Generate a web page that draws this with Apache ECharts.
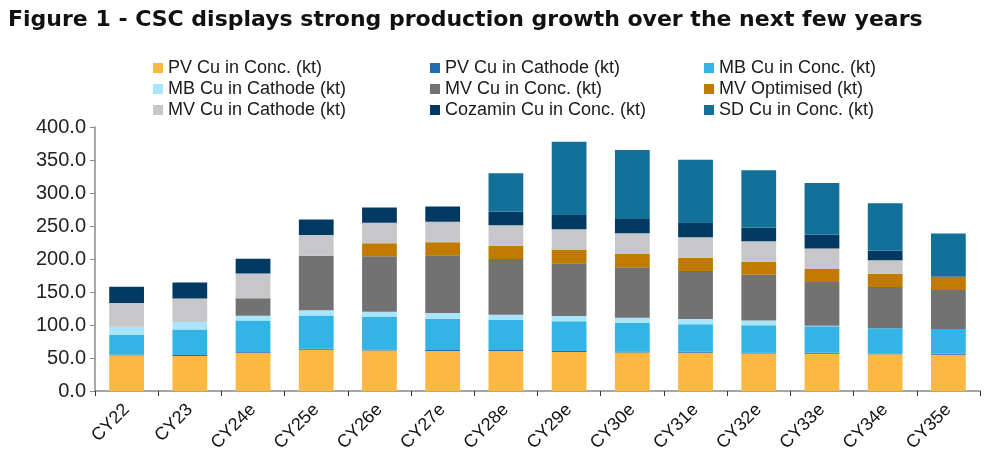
<!DOCTYPE html>
<html>
<head>
<meta charset="utf-8">
<script src="https://cdn.jsdelivr.net/npm/echarts@6/dist/echarts.min.js"></script>
<style>
  html, body { margin: 0; padding: 0; background: #fff; }
  #main { width: 1000px; height: 462px; }
</style>
</head>
<body>
<div id="main"></div>
<script>
// categories
var years = ['CY22', 'CY23', 'CY24e', 'CY25e', 'CY26e', 'CY27e', 'CY28e', 'CY29e', 'CY30e', 'CY31e', 'CY32e', 'CY33e', 'CY34e', 'CY35e'];

// series values (kt)
var pvConc     = [54, 53, 58, 62.5, 61.5, 60.5, 60.5, 59, 58.5, 58, 57, 56.5, 55.5, 55];
var pvCathode  = [1, 1.5, 1, 1.5, 1.5, 1.5, 1.5, 1.5, 1.5, 1.5, 1, 1.5, 1.5, 1.5];
var mbConc     = [30, 38.5, 48, 50.5, 49, 47.5, 45.5, 45, 43.5, 41.5, 41.5, 40, 38, 37.5];
var mbCathode  = [12.5, 11.5, 7, 8, 8, 8.5, 8, 8, 7.5, 8, 7.5, 1, 0, 0];
var mvConc     = [0, 0, 26.5, 82.5, 84, 87.5, 84.5, 80, 76.5, 73, 69, 66, 62.5, 59];
var mvOpt      = [0, 0, 0, 0, 20, 20, 20, 20, 20, 20, 20, 20, 20, 20];
var mvCathode  = [36, 35.5, 37.5, 31.5, 31, 31, 31, 31.5, 31.5, 31, 31, 31, 20.5, 0];
var cozamin    = [24.5, 24.5, 22.5, 23.5, 23, 23, 21, 21.5, 21.5, 21.5, 20.5, 21, 15, 0];
var sdConc     = [0, 0, 0, 0, 0, 0, 58, 111, 104.5, 96, 87, 78, 71.5, 65.5];

var yTicks = [0, 50, 100, 150, 200, 250, 300, 350, 400];

var names = ['PV Cu in Conc. (kt)', 'PV Cu in Cathode (kt)', 'MB Cu in Conc. (kt)',
             'MB Cu in Cathode (kt)', 'MV Cu in Conc. (kt)', 'MV Optimised (kt)',
             'MV Cu in Cathode (kt)', 'Cozamin Cu in Conc. (kt)', 'SD Cu in Conc. (kt)'];
var values = [pvConc, pvCathode, mbConc, mbCathode, mvConc, mvOpt, mvCathode, cozamin, sdConc];
var colors = ['#FDB743', '#1F6DB3', '#33B4E7', '#AAE6FB', '#727272', '#C17A00', '#C7C7C9', '#003A63', '#137098'];

var chart = echarts.init(document.getElementById('main'));

var labelFont = 'Liberation Sans, Arial, sans-serif';
var legendText = { color: '#1a1a1a', fontSize: 18, fontFamily: labelFont, lineHeight: 17 };
function legendCol(left, items) {
    return {
        orient: 'vertical',
        left: left,
        top: 59,
        itemWidth: 10,
        itemHeight: 10,
        itemGap: 3,
        icon: 'rect',
        padding: 0,
        selectedMode: false,
        textStyle: legendText,
        data: items
    };
}

var series = names.map(function (n, i) {
    return {
        name: n,
        type: 'bar',
        stack: 'total',
        barCategoryGap: '45%',
        itemStyle: { color: colors[i] },
        data: values[i]
    };
});

chart.setOption({
    animation: false,
    color: colors,
    title: {
        text: 'Figure 1 - CSC displays strong production growth over the next few years',
        left: 3,
        top: 4,
        textStyle: { fontFamily: 'DejaVu Sans', fontWeight: 'bold', fontSize: 22, color: '#111' }
    },
    legend: [
        legendCol(153, [names[0], names[3], names[6]]),
        legendCol(430, [names[1], names[4], names[7]]),
        legendCol(704, [names[2], names[5], names[8]])
    ],
    grid: { left: 95, right: 20, top: 127, bottom: 71 },
    xAxis: {
        type: 'category',
        data: years,
        axisLine: { lineStyle: { color: '#8a8a8a', width: 1.5 } },
        axisTick: { show: true, length: 5, lineStyle: { color: '#333' } },
        axisLabel: {
            rotate: 45,
            margin: 16,
            color: '#111',
            fontSize: 18,
            fontFamily: labelFont
        }
    },
    yAxis: {
        type: 'value',
        min: yTicks[0],
        max: yTicks[yTicks.length - 1],
        interval: 50,
        splitLine: { show: false },
        axisLine: { show: true, lineStyle: { color: '#8a8a8a', width: 1.5 } },
        axisTick: { show: true, length: 5, lineStyle: { color: '#8a8a8a' } },
        axisLabel: {
            margin: 9,
            color: '#222',
            fontSize: 20,
            fontFamily: labelFont,
            formatter: function (v) { return v.toFixed(1); }
        }
    },
    series: series
});
</script>
</body>
</html>
